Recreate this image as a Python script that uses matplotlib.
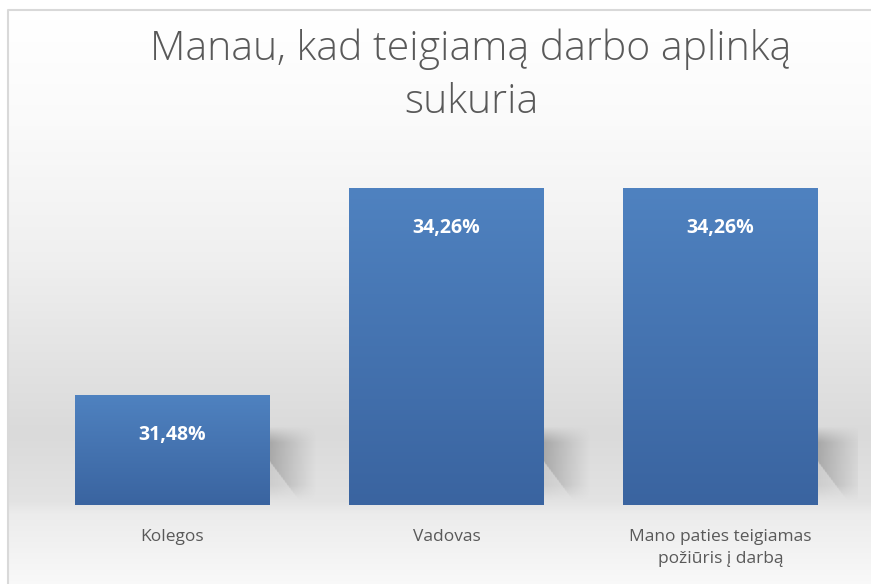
import numpy as np
import matplotlib.pyplot as plt
from matplotlib.colors import to_rgb

categories = ["Kolegos", "Vadovas", "Mano paties teigiamas\npožiūris į darbą"]
values = [31.48, 34.26, 34.26]
value_labels = ["31,48%", "34,26%", "34,26%"]
title = "Manau, kad teigiamą darbo aplinką\nsukuria"

Y_MIN, Y_MAX = 30, 35
BAR_W = 0.71
TEXT_GREY = "#595959"
plt.rcParams["font.family"] = ["Open Sans", "DejaVu Sans"]

fig = plt.figure(figsize=(8.71, 5.84), dpi=100)

# background panel with the soft vertical gradient
bg = fig.add_axes([0, 0, 1, 1], zorder=-10)
bg.set_xlim(0, 871)
bg.set_ylim(584, 0)
bg.axis("off")
rows = np.arange(584)
grey = np.interp(rows, [10, 120, 250, 430, 500, 512, 584],
                 [1.0, 0.98, 0.94, 0.855, 0.89, 0.925, 0.975])
grad = np.repeat(grey[:, None], 3, axis=1)[:, None, :]
bg.imshow(grad, extent=[8, 871, 584, 10], aspect="auto", interpolation="bilinear")
bg.plot([8, 8, 871], [584, 10, 10], color="#d9d9d9", lw=1.5)

ax = fig.add_axes([35.5 / 871, 79 / 584, 822 / 871, 372 / 584])
ax.patch.set_alpha(0)
for s in ax.spines.values():
    s.set_visible(False)
ax.set_yticks([])
ax.tick_params(axis="x", length=0, pad=17)
x = np.arange(len(categories))
ax.set_xticks(x)
ax.set_xticklabels(categories, fontsize=12.5, color=TEXT_GREY, linespacing=1.55)

# soft shadows to the lower right of each bar
sh_w, sh_h = 0.17, 1.05
nx, ny = 80, 60
gx, gy = np.meshgrid(np.linspace(0, 1, nx), np.linspace(0, 1, ny))
fade_x = np.clip(1 - gx, 0, 1) ** 1.1
fade_y = np.clip(np.sin(np.pi * np.clip(gy * 1.05, 0, 1)) * 1.6, 0, 1)
cut = gy > 0.35 + 0.9 * gx
alpha = fade_x * fade_y * 0.45
alpha[cut] *= 0.35
shadow = np.zeros((ny, nx, 4))
shadow[..., :3] = 0.35
shadow[..., 3] = alpha
for xi, v in zip(x, values):
    xr = xi + BAR_W / 2
    ax.imshow(shadow, extent=[xr - 0.02, xr + sh_w, Y_MIN, Y_MIN + sh_h],
              origin="upper", aspect="auto", zorder=1, interpolation="bilinear")

# bars with a vertical blue gradient
top_c = np.array(to_rgb("#4f82c0"))
bot_c = np.array(to_rgb("#3a64a0"))
bars = ax.bar(x, [v - Y_MIN for v in values], width=BAR_W, bottom=Y_MIN,
              color="#4573b0", zorder=2)
t = np.linspace(0, 1, 200)[:, None]
bar_grad = (top_c * (1 - t) + bot_c * t)[:, None, :]
for b in bars:
    im = ax.imshow(bar_grad, extent=[b.get_x(), b.get_x() + b.get_width(),
                                     b.get_y(), b.get_y() + b.get_height()],
                   origin="upper", aspect="auto", zorder=3, interpolation="bilinear")
    im.set_clip_path(b)
ax.set_xlim(-0.5, len(categories) - 0.5)
ax.set_ylim(Y_MIN, Y_MAX)

for xi, v, lab in zip(x, values, value_labels):
    ax.annotate(lab, (xi, v), xytext=(0, -29), textcoords="offset points",
                ha="center", va="center", color="white", fontsize=14,
                fontweight="bold", zorder=5)

fig.text(471 / 871, 1 - 76 / 584, title, ha="center", va="center",
         fontsize=29.5, color=TEXT_GREY, linespacing=1.4, fontweight="light")

fig.savefig("out.png", dpi=100)
